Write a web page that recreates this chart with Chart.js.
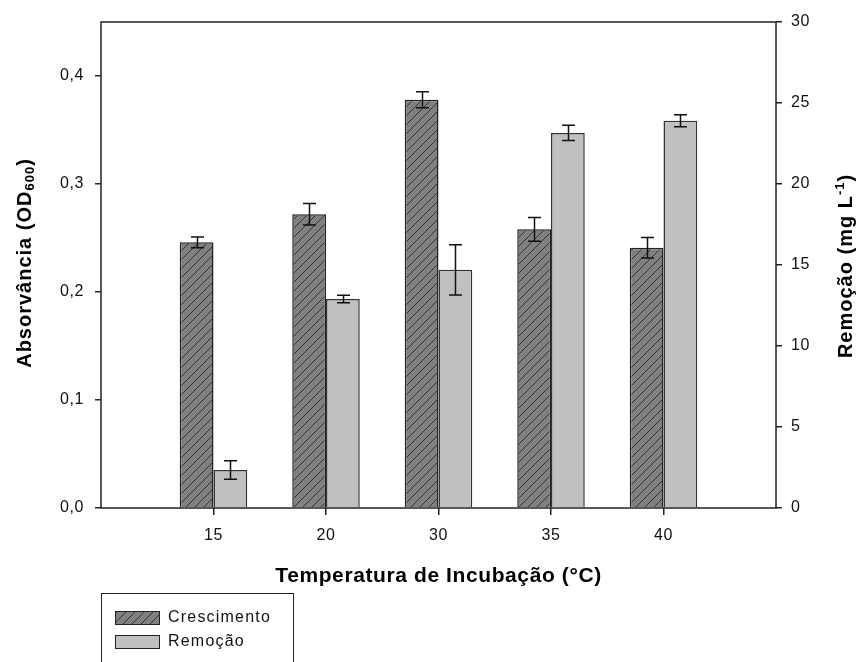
<!DOCTYPE html>
<html>
<head>
<meta charset="utf-8">
<script src="https://cdn.jsdelivr.net/npm/chart.js@4.4.1/dist/chart.umd.min.js"></script>
<style>
  html, body { margin: 0; padding: 0; background: #fff; }
  #wrap { width: 857px; height: 662px; }
</style>
</head>
<body>
<div id="wrap"><canvas id="grafico" width="857" height="662"></canvas></div>
<script>
const categorias = ["15", "20", "30", "35", "40"];

const crescimento = [0.246, 0.272, 0.378, 0.258, 0.241];
const crescimentoErro = [0.005, 0.010, 0.0075, 0.011, 0.0095];

const remocao = [2.35, 12.9, 14.7, 23.15, 23.9];
const remocaoErro = [0.57, 0.23, 1.55, 0.47, 0.37];

const ticksEsquerda = [0, 0.1, 0.2, 0.3, 0.4];
const ticksDireita = [0, 5, 10, 15, 20, 25, 30];

const fonteTicks = { family: "'Liberation Sans', Arial, sans-serif", size: 16 };
const corTexto = "#111";

// hachura diagonal da serie Crescimento
function criarHachura() {
  const c = document.createElement("canvas");
  c.width = 9;
  c.height = 9;
  const g = c.getContext("2d");
  g.fillStyle = "#808080";
  g.fillRect(0, 0, 9, 9);
  g.strokeStyle = "#2a2a2a";
  g.lineWidth = 0.9;
  g.beginPath();
  g.moveTo(-1, 10); g.lineTo(10, -1);
  g.moveTo(-2, 2); g.lineTo(2, -2);
  g.moveTo(7, 11); g.lineTo(11, 7);
  g.stroke();
  return g.createPattern(c, "repeat");
}

const canvas = document.getElementById("grafico");
const hachura = criarHachura();

const labels = ["", ...categorias, ""];
const comVazios = (arr) => [null, ...arr, null];

function desenharTextoRico(ctx, partes, cx, cy) {
  let total = 0;
  partes.forEach((p) => {
    ctx.font = `bold ${p.size}px 'Liberation Sans', Arial, sans-serif`;
    p.w = ctx.measureText(p.t).width;
    total += p.w;
  });
  let x = -total / 2;
  ctx.save();
  ctx.translate(cx, cy);
  ctx.rotate(-Math.PI / 2);
  ctx.fillStyle = "#000";
  ctx.textBaseline = "middle";
  ctx.textAlign = "left";
  partes.forEach((p) => {
    ctx.font = `bold ${p.size}px 'Liberation Sans', Arial, sans-serif`;
    ctx.fillText(p.t, x, p.dy || 0);
    x += p.w;
  });
  ctx.restore();
}

const pluginExtras = {
  id: "extras",
  beforeDraw(chart) {
    const ctx = chart.ctx;
    ctx.save();
    ctx.fillStyle = "#fff";
    ctx.fillRect(0, 0, chart.width, chart.height);
    ctx.restore();
    ctx.letterSpacing = "0.6px";
  },
  afterDatasetsDraw(chart) {
    const ctx = chart.ctx;
    const erros = [crescimentoErro, remocaoErro];
    const valores = [crescimento, remocao];
    ctx.save();
    ctx.strokeStyle = "#111";
    ctx.lineWidth = 1.5;
    chart.data.datasets.forEach((ds, i) => {
      const meta = chart.getDatasetMeta(i);
      const escala = chart.scales[meta.yAxisID];
      meta.data.forEach((el, j) => {
        const k = j - 1;
        if (k < 0 || k >= valores[i].length) return;
        const v = valores[i][k];
        const e = erros[i][k];
        const x = Math.round(el.x) + 0.5;
        const yTop = escala.getPixelForValue(v + e);
        const yBot = escala.getPixelForValue(v - e);
        ctx.beginPath();
        ctx.moveTo(x, yTop); ctx.lineTo(x, yBot);
        ctx.moveTo(x - 6.5, yTop); ctx.lineTo(x + 6.5, yTop);
        ctx.moveTo(x - 6.5, yBot); ctx.lineTo(x + 6.5, yBot);
        ctx.stroke();
      });
    });
    ctx.restore();
  },
  afterDraw(chart) {
    const ctx = chart.ctx;
    const a = chart.chartArea;
    ctx.save();
    ctx.strokeStyle = "#222";
    ctx.lineWidth = 1.5;
    ctx.strokeRect(a.left, a.top, a.right - a.left, a.bottom - a.top);

    // titulos dos eixos y
    ctx.letterSpacing = "1px";
    desenharTextoRico(ctx, [
      { t: "Absorvância (OD", size: 20 },
      { t: "600", size: 13, dy: 5 },
      { t: ")", size: 20 }
    ], 25, 263);
    desenharTextoRico(ctx, [
      { t: "Remoção (mg L", size: 20 },
      { t: "-1", size: 13, dy: -6 },
      { t: ")", size: 20 }
    ], 846, 266);

    // legenda
    ctx.lineWidth = 1;
    ctx.strokeStyle = "#222";
    ctx.strokeRect(101.5, 593.5, 192, 120);
    const itens = [
      { nome: "Crescimento", cor: hachura, y: 611 },
      { nome: "Remoção", cor: "#c0c0c0", y: 635 }
    ];
    itens.forEach((it) => {
      ctx.fillStyle = it.cor;
      ctx.fillRect(115, it.y, 44, 13);
      ctx.strokeStyle = "#222";
      ctx.strokeRect(115.5, it.y + 0.5, 44, 13);
      ctx.fillStyle = corTexto;
      ctx.font = "16px 'Liberation Sans', Arial, sans-serif";
      ctx.letterSpacing = "1.2px";
      ctx.textBaseline = "middle";
      ctx.textAlign = "left";
      ctx.fillText(it.nome, 168, it.y + 7);
    });
    ctx.restore();
  }
};

const grafico = new Chart(canvas, {
  type: "bar",
  data: {
    labels: labels,
    datasets: [
      {
        label: "Crescimento",
        data: comVazios(crescimento),
        yAxisID: "y",
        backgroundColor: hachura,
        borderColor: "#222",
        borderWidth: 1.5
      },
      {
        label: "Remoção",
        data: comVazios(remocao),
        yAxisID: "y1",
        backgroundColor: "#c0c0c0",
        borderColor: "#333",
        borderWidth: 1.5
      }
    ]
  },
  options: {
    responsive: false,
    animation: false,
    devicePixelRatio: 1,
    layout: { padding: { top: 22, left: 0, right: 0, bottom: 0 } },
    datasets: {
      bar: { categoryPercentage: 0.6, barPercentage: 1.0 }
    },
    plugins: {
      legend: { display: false },
      tooltip: { enabled: false }
    },
    scales: {
      x: {
        type: "category",
        offset: false,
        grid: {
          offset: false,
          drawOnChartArea: false,
          tickLength: 7,
          lineWidth: 1.5,
          color: (ctx) => (ctx.tick && ctx.tick.label === "" ? "rgba(0,0,0,0)" : "#222")
        },
        border: { display: false },
        ticks: {
          autoSkip: false,
          maxRotation: 0,
          padding: 11,
          color: corTexto,
          font: fonteTicks
        },
        title: {
          display: true,
          text: "Temperatura de Incubação (°C)",
          color: "#000",
          font: { family: "'Liberation Sans', Arial, sans-serif", size: 21, weight: "bold" },
          padding: { top: 0, bottom: 73 }
        },
        afterFit: (s) => { s.height = 154; }
      },
      y: {
        position: "left",
        min: 0,
        max: 0.45,
        grid: { drawOnChartArea: false, tickLength: 6, lineWidth: 1.5, color: "#222" },
        border: { display: false },
        ticks: {
          padding: 11,
          color: corTexto,
          font: fonteTicks,
          callback: (v) => Number(v).toFixed(1).replace(".", ",")
        },
        afterBuildTicks: (s) => { s.ticks = ticksEsquerda.map((v) => ({ value: v })); },
        afterFit: (s) => { s.width = 101; }
      },
      y1: {
        position: "right",
        min: 0,
        max: 30,
        grid: { drawOnChartArea: false, tickLength: 6, lineWidth: 1.5, color: "#222" },
        border: { display: false },
        ticks: {
          padding: 9,
          color: corTexto,
          font: fonteTicks
        },
        afterBuildTicks: (s) => { s.ticks = ticksDireita.map((v) => ({ value: v })); },
        afterFit: (s) => { s.width = 81; }
      }
    }
  },
  plugins: [pluginExtras]
});
</script>
</body>
</html>
